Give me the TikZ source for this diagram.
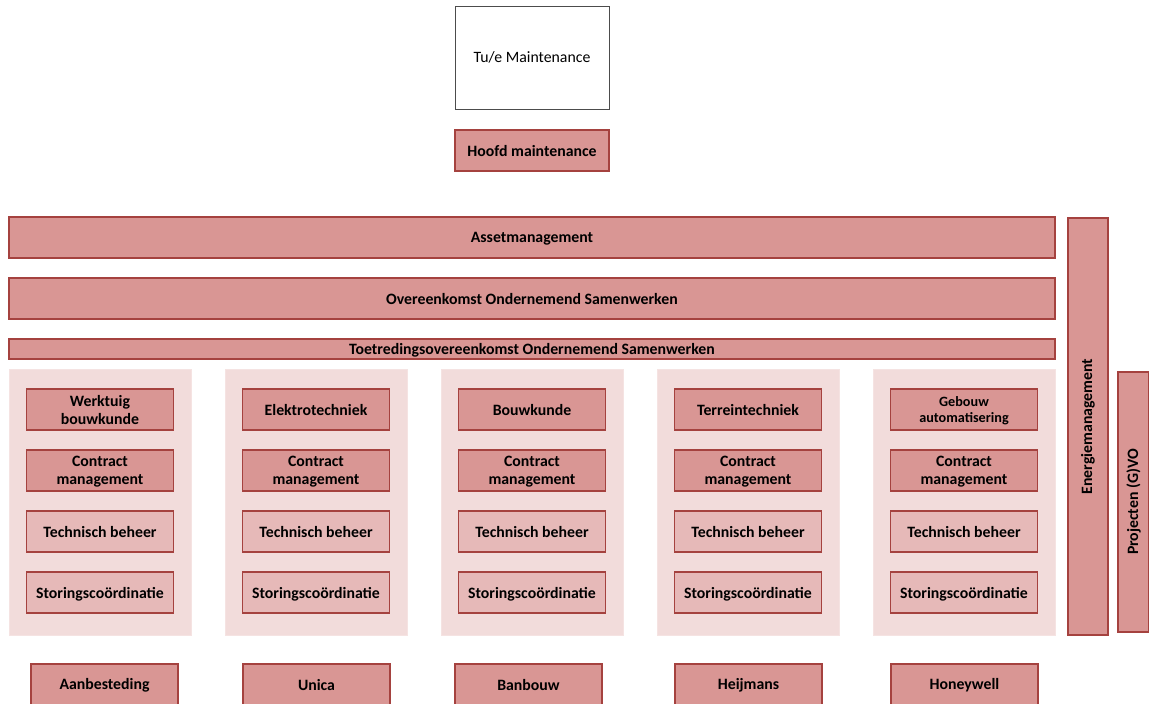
\documentclass[tikz,border=0pt]{standalone}
\usepackage{fontspec}
\setmainfont{Carlito}
\definecolor{darkfill}{HTML}{D99694}
\definecolor{lightfill}{HTML}{E6B9B8}
\definecolor{bgfill}{HTML}{F2DCDB}
\definecolor{edge}{HTML}{A5423F}
\tikzset{
  lblfont/.style={font=\bfseries\fontsize{15.8}{18}\selectfont},
  box/.style={draw=edge, line width=1.6pt, fill=darkfill, lblfont, align=center, inner sep=0pt, text depth=0pt},
  lbox/.style={box, fill=lightfill},
  colbg/.style={fill=bgfill, draw=bgfill!80!white, line width=0.6pt},
  smallfont/.style={font=\bfseries\fontsize{14.2}{16.5}\selectfont},
}
\begin{document}
\begin{tikzpicture}[x=1pt,y=-1pt]
\useasboundingbox (0,0) rectangle (1149,704);
\clip (0,0) rectangle (1149,704);
% top
\node[draw=black!70, line width=1pt, fill=white, minimum width=154pt, minimum height=103pt, font=\fontsize{15.8}{18}\selectfont, inner sep=0pt] (tue) at (532,57.5) {Tu/e Maintenance};
\node[box, minimum width=154pt, minimum height=41pt] (hoofd) at (532,150.5) {Hoofd maintenance};
\node[box, minimum width=1046pt, minimum height=41pt] (asset) at (532,237.5) {Assetmanagement};
\node[box, minimum width=1046pt, minimum height=41pt] (oos) at (532,298.5) {Overeenkomst Ondernemend Samenwerken};
\node[box, minimum width=1046pt, minimum height=20pt] (toe) at (532,349) {Toetredingsovereenkomst Ondernemend Samenwerken};
% side
\node[box, minimum width=40pt, minimum height=417pt] (energie) at (1088,426.5) {};
\node[lblfont, rotate=90] (energielbl) at (energie.center) {Energiemanagement};
\node[box, minimum width=31pt, minimum height=260pt] (proj) at (1133.5,502) {};
\node[lblfont, rotate=90] (projlbl) at (proj.center) {Projecten (G)VO};
% columns
\foreach \i/\t/\f [count=\n] in {0/{Werktuig\\bouwkunde}/lblfont,1/Elektrotechniek/lblfont,2/Bouwkunde/lblfont,3/Terreintechniek/lblfont,4/{Gebouw\\automatisering}/smallfont}{
  \pgfmathsetmacro{\cx}{100+216*\i}
  \node[colbg, minimum width=182pt, minimum height=266pt, inner sep=0pt] (col\n) at (\cx,502) {};
  \node[box, \f, minimum width=147pt, minimum height=41pt] (dept\n) at (\cx,409.5) {\t};
  \node[box, minimum width=147pt, minimum height=41pt] (cm\n) at (\cx,470.5) {Contract\\management};
  \node[lbox, minimum width=147pt, minimum height=41pt] (tb\n) at (\cx,531.5) {Technisch beheer};
  \node[lbox, minimum width=147pt, minimum height=41pt] (sc\n) at (\cx,592.5) {Storingscoördinatie};
}
% bottom contractors
\node[box, minimum width=147pt, minimum height=46pt] (b1) at (104.5,687) {};
\node[lblfont] (b1l) at (104.5,685) {Aanbesteding};
\node[box, minimum width=147pt, minimum height=46pt] (b2) at (316.5,687) {};
\node[lblfont] (b2l) at (316.5,685) {Unica};
\node[box, minimum width=147pt, minimum height=46pt] (b3) at (528.5,687) {};
\node[lblfont] (b3l) at (528.5,685) {Banbouw};
\node[box, minimum width=147pt, minimum height=46pt] (b4) at (748.5,687) {};
\node[lblfont] (b4l) at (748.5,685) {Heijmans};
\node[box, minimum width=147pt, minimum height=46pt] (b5) at (964.5,687) {};
\node[lblfont] (b5l) at (964.5,685) {Honeywell};
\end{tikzpicture}
\end{document}
